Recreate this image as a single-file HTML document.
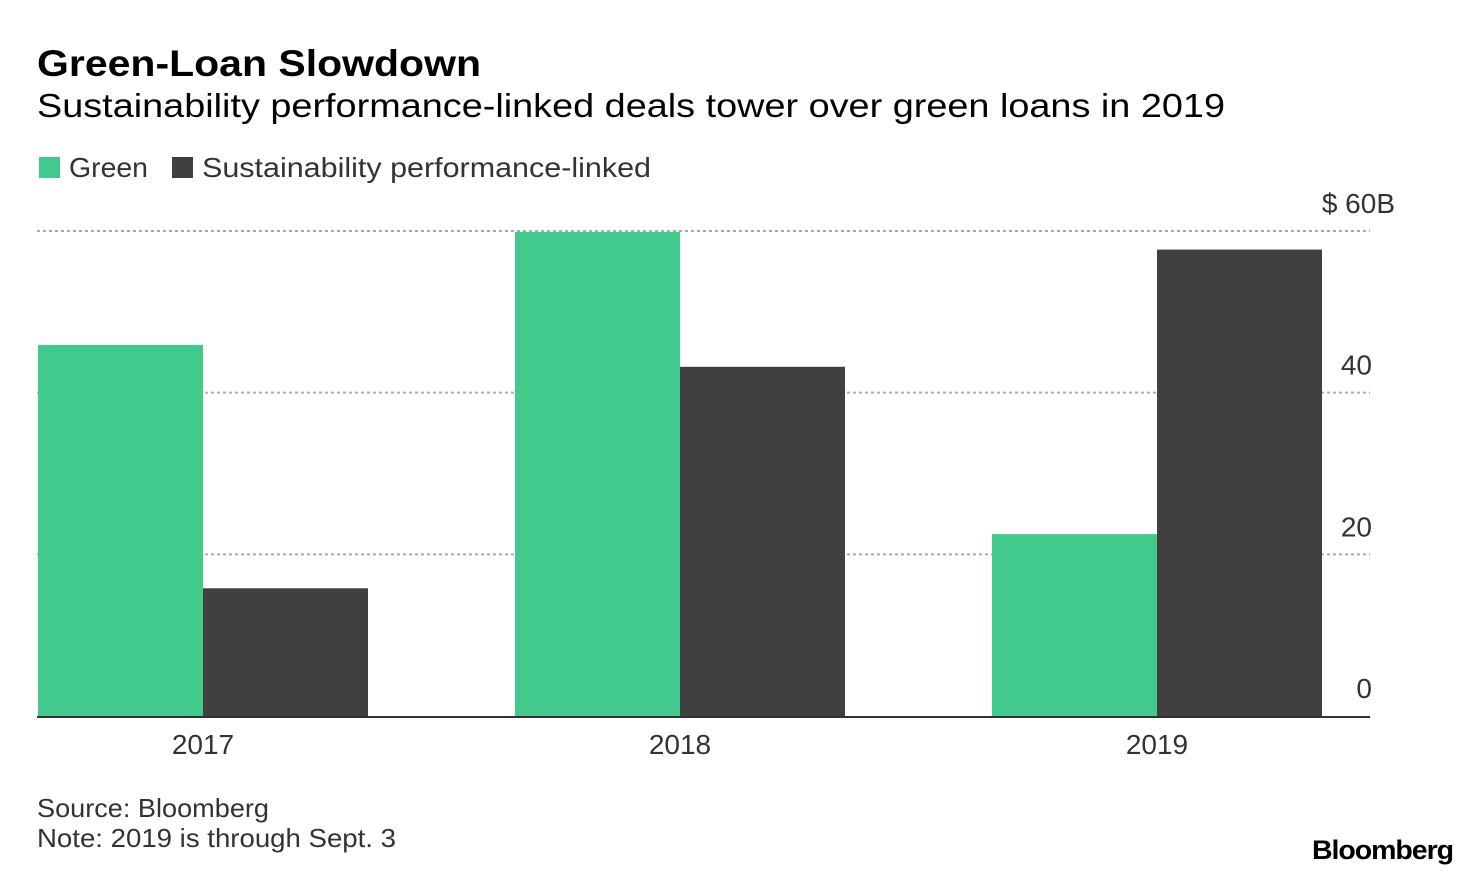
<!DOCTYPE html>
<html><head><meta charset="utf-8"><style>
html,body{margin:0;padding:0;background:#fff;}
svg{display:block;font-family:"Liberation Sans",sans-serif;}
</style></head><body>
<svg id="chart" width="1480" height="876" viewBox="0 0 1480 876">
<text x="37" y="76" font-size="37" font-weight="bold" fill="#000" textLength="444" lengthAdjust="spacingAndGlyphs">Green-Loan Slowdown</text>
<text x="37" y="117" font-size="33" fill="#000" textLength="1188" lengthAdjust="spacingAndGlyphs">Sustainability performance-linked deals tower over green loans in 2019</text>
<g>
<rect x="39" y="157" width="21" height="21" fill="#42c98c"/>
<text x="69" y="177" font-size="28" fill="#333" textLength="79" lengthAdjust="spacingAndGlyphs">Green</text>
<rect x="172" y="157" width="21" height="21" fill="#404040"/>
<text x="202" y="177" font-size="28" fill="#333" textLength="449" lengthAdjust="spacingAndGlyphs">Sustainability performance-linked</text>
</g>
<g id="grid"></g>
<g id="bars"></g>
<g id="axes"></g>
<text x="37" y="817" font-size="26" fill="#333" textLength="232" lengthAdjust="spacingAndGlyphs">Source: Bloomberg</text>
<text x="37" y="847" font-size="26" fill="#333" textLength="359" lengthAdjust="spacingAndGlyphs">Note: 2019 is through Sept. 3</text>
<text x="1312" y="859" font-size="27" font-weight="bold" fill="#000" textLength="141" lengthAdjust="spacingAndGlyphs" letter-spacing="-1">Bloomberg</text>
</svg>
<script>
const categories = ["2017","2018","2019"];
const greenValues = [45.9, 59.9, 22.5];
const sustainValues = [15.8, 43.2, 57.7];
const tickValues = [0, 20, 40, 60];
const tickLabels = ["0","20","40","$ 60B"];

const NS = "http://www.w3.org/2000/svg";
const x0 = 37, x1 = 1370, yBase = 716, yTop = 231, yMax = 60;
const y = v => yBase - (v / yMax) * (yBase - yTop);
const step = 477, firstCenter = 203, barW = 165;
const xc = i => firstCenter + i * step;
function mk(tag, attrs, parent){const e=document.createElementNS(NS,tag);for(const k in attrs)e.setAttribute(k,attrs[k]);parent.appendChild(e);return e;}
const grid = document.getElementById('grid'), bars = document.getElementById('bars'), axes = document.getElementById('axes');

tickValues.forEach((v,i)=>{
  if(v!==0){
    const l = mk('line',{x1:x0,x2:x1,y1:y(v),y2:y(v),stroke:'#aaa','stroke-width':2,'stroke-dasharray':'3,3'},grid);
    
    
  }
  const last = i === tickValues.length - 1;
  const t = mk('text',{x:last?1395:1372,y:y(v)-18,'font-size':28,fill:'#333','text-anchor':'end'},axes);
  t.textContent = tickLabels[i];
  
  
});

categories.forEach((c,i)=>{
  const g = mk('rect',{x:xc(i)-barW,y:y(greenValues[i]),width:barW,height:yBase-y(greenValues[i]),fill:'#42c98c'},bars);
  
  
  const s = mk('rect',{x:xc(i),y:y(sustainValues[i]),width:barW,height:yBase-y(sustainValues[i]),fill:'#404040'},bars);
  
  
  const t = mk('text',{x:xc(i),y:754,'font-size':28,fill:'#333','text-anchor':'middle'},axes);
  t.textContent = c;
  
  
});
const base = mk('line',{x1:x0,x2:x1,y1:yBase+1,y2:yBase+1,stroke:'#333','stroke-width':2},axes);


</script>
</body></html>
